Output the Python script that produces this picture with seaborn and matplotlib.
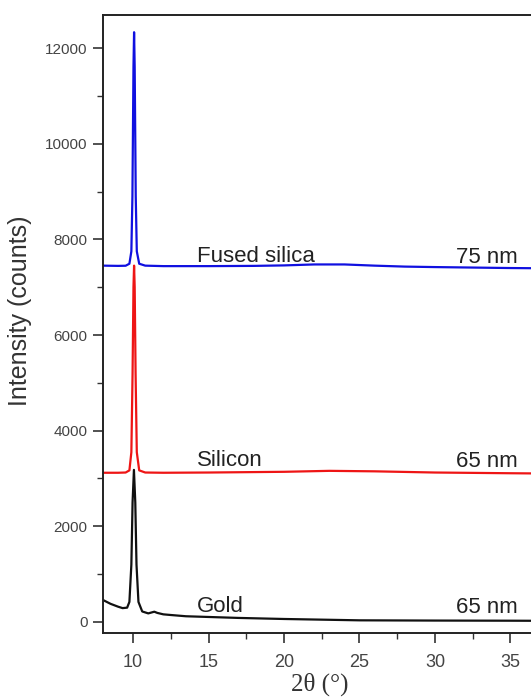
import matplotlib
matplotlib.use("Agg")
import matplotlib.pyplot as plt
import seaborn as sns
import pandas as pd
from matplotlib.ticker import MultipleLocator

# ---- data ----
x_gold = [8, 8.5, 9, 9.3, 9.6, 9.75, 9.88, 9.96, 10.05, 10.14, 10.22, 10.35, 10.6, 11.0, 11.4, 11.6, 12.0, 12.5, 13.5, 15, 17, 20, 25, 30, 35, 37]
y_gold = [460, 380, 320, 290, 300, 420, 1200, 2500, 3180, 2500, 1200, 420, 220, 180, 215, 190, 160, 146, 120, 105, 85, 63, 35, 30, 27, 25]

x_si = [8, 9, 9.5, 9.75, 9.88, 9.96, 10.02, 10.06, 10.1, 10.16, 10.24, 10.4, 10.8, 12, 15, 20, 23, 26, 30, 35, 37]
y_si = [3120, 3120, 3125, 3170, 3550, 5200, 7000, 7450, 7000, 5200, 3550, 3170, 3125, 3120, 3125, 3140, 3160, 3150, 3125, 3110, 3105]

x_fs = [8, 9, 9.5, 9.75, 9.88, 9.95, 10.02, 10.06, 10.1, 10.17, 10.24, 10.4, 10.8, 12, 15, 18, 20, 22, 24, 26, 28, 30, 35, 37]
y_fs = [7450, 7445, 7448, 7490, 7750, 8900, 11600, 12330, 11600, 8900, 7750, 7490, 7450, 7440, 7440, 7445, 7455, 7475, 7475, 7450, 7430, 7420, 7400, 7395]

series_names = ["Gold", "Silicon", "Fused silica"]
series_colors = ["#111111", "#ee1515", "#1010e0"]
thickness_labels = ["65 nm", "65 nm", "75 nm"]
label_y = [200, 3270, 7520]

x_ticks = [10, 15, 20, 25, 30, 35]
y_ticks = [0, 2000, 4000, 6000, 8000, 10000, 12000]

df = pd.concat([
    pd.DataFrame({"x": x_gold, "y": y_gold, "s": "Gold"}),
    pd.DataFrame({"x": x_si, "y": y_si, "s": "Silicon"}),
    pd.DataFrame({"x": x_fs, "y": y_fs, "s": "Fused silica"}),
], ignore_index=True)

sns.set_style("ticks")
plt.rcParams["font.family"] = ["Liberation Sans", "DejaVu Sans"]

fig = plt.figure(figsize=(5.31, 6.98), dpi=100)
ax = fig.add_axes([103 / 531, 1 - 633 / 698, 433 / 531, 618 / 698])

sns.lineplot(data=df, x="x", y="y", hue="s", hue_order=series_names,
             palette=dict(zip(series_names, series_colors)),
             sort=False, estimator=None, linewidth=1.6, legend=False, ax=ax)

for name, lab, yy in zip(series_names, thickness_labels, label_y):
    ax.text(14.2, yy, name, fontsize=16, color="#222222", va="baseline", ha="left")
    ax.text(31.4, yy - 20, lab, fontsize=16, color="#222222", va="baseline", ha="left")

ax.set_xlim(8, 36.7)
ax.set_ylim(-230, 12690)
ax.set_xticks(x_ticks)
ax.set_yticks(y_ticks)
ax.xaxis.set_minor_locator(MultipleLocator(2.5))
ax.yaxis.set_minor_locator(MultipleLocator(1000))
ax.tick_params(which="major", direction="out", length=7, width=1.2, colors="#333333",
               labelcolor="#444444")
ax.tick_params(which="minor", direction="out", length=4, width=1.0, colors="#333333")
ax.tick_params(axis="y", labelsize=11, pad=4)
ax.tick_params(axis="x", labelsize=13, pad=8)

for sp in ax.spines.values():
    sp.set_linewidth(1.4)
    sp.set_color("#222222")

ax.set_ylabel("Intensity (counts)", fontsize=18, color="#333333")
ax.yaxis.set_label_coords(-0.165, 0.521)
ax.set_xlabel("2θ (°)", fontsize=18, color="#333333", family=["Liberation Serif", "DejaVu Serif"])
ax.xaxis.set_label_coords(0.501, -0.064)

fig.savefig("out.png", dpi=100)
